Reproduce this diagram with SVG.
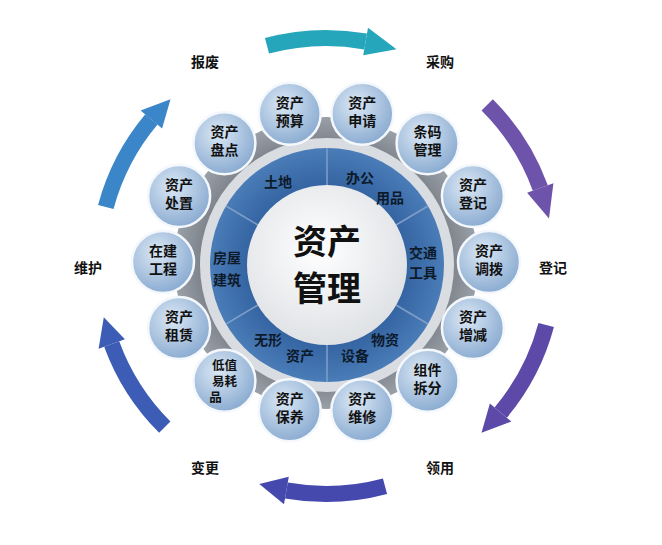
<svg xmlns="http://www.w3.org/2000/svg" width="662" height="545" viewBox="0 0 662 545">
<defs>
<radialGradient id="gc" cx="40%" cy="35%" r="70%"><stop offset="0" stop-color="#dbe8f5"/><stop offset="1" stop-color="#86a8cf"/></radialGradient>
<radialGradient id="gw" cx="45%" cy="40%" r="65%"><stop offset="0" stop-color="#ffffff"/><stop offset="1" stop-color="#dcdfe3"/></radialGradient>
<radialGradient id="gb" cx="50%" cy="50%" r="50%"><stop offset="0.6" stop-color="#2f5f9c"/><stop offset="1" stop-color="#4a7cb8"/></radialGradient>
<radialGradient id="gg" cx="50%" cy="50%" r="50%"><stop offset="0.7" stop-color="#6b7078"/><stop offset="1" stop-color="#9aa0a8"/></radialGradient>
<style>
.c{fill:url(#gc);stroke:#f4f8fc;stroke-width:2.5}
.t{font-family:"Noto Sans CJK SC","Liberation Sans",sans-serif;font-weight:bold;font-size:14px;fill:#111;text-anchor:middle}
.s{font-family:"Noto Sans CJK SC","Liberation Sans",sans-serif;font-weight:bold;font-size:14px;fill:#0d1a2a;text-anchor:middle}
.o{font-family:"Noto Sans CJK SC","Liberation Sans",sans-serif;font-weight:bold;font-size:14px;fill:#111;text-anchor:middle}
.a{fill:none;stroke-width:16}
</style>
</defs>
<rect width="662" height="545" fill="#fff"/>
<g id="connectors">
<path class="a" stroke="#26a6bb" d="M267,45.8 A228,228 0 0 1 365.6,41.5"/><polygon fill="#26a6bb" points="363.2,55.3 368,27.7 396.5,49.2"/>
<path class="a" stroke="#6d53aa" d="M487.2,104.8 A228,228 0 0 1 540.3,188"/><polygon fill="#6d53aa" points="527.1,192.8 553.4,183.2 549,218.6"/>
<path class="a" stroke="#5c49a8" d="M546.2,325 A228,228 0 0 1 500.7,412.6"/><polygon fill="#5c49a8" points="489.9,403.6 511.4,421.6 481.5,432.8"/>
<path class="a" stroke="#4549ae" d="M385,486.2 A228,228 0 0 1 286.4,490.5"/><polygon fill="#4549ae" points="288.8,476.7 284,504.3 259.3,484"/>
<path class="a" stroke="#3d5cb6" d="M164.8,427.2 A228,228 0 0 1 111.7,344"/><polygon fill="#3d5cb6" points="124.9,339.2 98.6,348.8 103.8,317.3"/>
<path class="a" stroke="#3a86c8" d="M105.8,207 A228,228 0 0 1 151.4,119.4"/><polygon fill="#3a86c8" points="162.1,128.4 140.6,110.4 170.5,99.2"/>
</g>
<g id="labels">
<text class="o" x="205" y="67">报废</text><text class="o" x="440" y="67">采购</text>
<text class="o" x="553" y="273">登记</text><text class="o" x="440" y="473">领用</text>
<text class="o" x="205" y="473">变更</text><text class="o" x="88" y="273">维护</text>
</g>
<g id="hub">
<ellipse cx="326" cy="263" rx="152" ry="146" fill="url(#gg)"/>
<circle cx="327" cy="265" r="127" fill="#d9dde2"/>
<circle cx="327" cy="265" r="117" fill="url(#gb)"/>
<g stroke="#7f9fc8" stroke-width="1.5">
<line x1="327" y1="185" x2="327" y2="148"/><line x1="327" y1="345" x2="327" y2="382"/>
<line x1="396" y1="225" x2="428" y2="206"/><line x1="258" y1="225" x2="226" y2="206"/>
<line x1="396" y1="305" x2="428" y2="324"/><line x1="258" y1="305" x2="226" y2="324"/>
</g>
<circle cx="327" cy="265" r="80" fill="url(#gw)"/>
<text class="t" style="font-size:34px" x="327" y="254">资产</text>
<text class="t" style="font-size:34px" x="327" y="301">管理</text>
<text class="s" x="278" y="187">土地</text>
<text class="s" x="360" y="183">办公</text><text class="s" x="390" y="203">用品</text>
<text class="s" x="423" y="258">交通</text><text class="s" x="423" y="278">工具</text>
<text class="s" x="385" y="345">物资</text><text class="s" x="355" y="361">设备</text>
<text class="s" x="268" y="345">无形</text><text class="s" x="300" y="361">资产</text>
<text class="s" x="227" y="263">房屋</text><text class="s" x="227" y="285">建筑</text>
</g>
<g id="n0"><circle class="c" cx="489" cy="262" r="31"/><text class="t" x="489" y="256">资产</text><text class="t" x="489" y="274">调拨</text></g>
<g id="n1"><circle class="c" cx="472.9" cy="196" r="31"/><text class="t" x="472.9" y="190">资产</text><text class="t" x="472.9" y="208">登记</text></g>
<g id="n2"><circle class="c" cx="427.6" cy="143.2" r="31"/><text class="t" x="427.6" y="137">条码</text><text class="t" x="427.6" y="155">管理</text></g>
<g id="n3"><circle class="c" cx="362.3" cy="113.8" r="31"/><text class="t" x="362.3" y="108">资产</text><text class="t" x="362.3" y="126">申请</text></g>
<g id="n4"><circle class="c" cx="289.7" cy="113.8" r="31"/><text class="t" x="289.7" y="108">资产</text><text class="t" x="289.7" y="126">预算</text></g>
<g id="n5"><circle class="c" cx="224.4" cy="143.2" r="31"/><text class="t" x="224.4" y="137">资产</text><text class="t" x="224.4" y="155">盘点</text></g>
<g id="n6"><circle class="c" cx="179.1" cy="196" r="31"/><text class="t" x="179.1" y="190">资产</text><text class="t" x="179.1" y="208">处置</text></g>
<g id="n7"><circle class="c" cx="163" cy="262" r="31"/><text class="t" x="163" y="256">在建</text><text class="t" x="163" y="274">工程</text></g>
<g id="n8"><circle class="c" cx="179.1" cy="328" r="31"/><text class="t" x="179.1" y="322">资产</text><text class="t" x="179.1" y="340">租赁</text></g>
<g id="n9"><circle class="c" cx="224.4" cy="380.8" r="31"/><text class="t" style="font-size:12.5px" x="224.4" y="370">低值</text><text class="t" style="font-size:12.5px" x="224.4" y="386">易耗</text><text class="t" style="font-size:12.5px" x="215.5" y="402">品</text></g>
<g id="n10"><circle class="c" cx="289.7" cy="410.2" r="31"/><text class="t" x="289.7" y="404">资产</text><text class="t" x="289.7" y="422">保养</text></g>
<g id="n11"><circle class="c" cx="362.3" cy="410.2" r="31"/><text class="t" x="362.3" y="404">资产</text><text class="t" x="362.3" y="422">维修</text></g>
<g id="n12"><circle class="c" cx="427.6" cy="380.8" r="31"/><text class="t" x="427.6" y="375">组件</text><text class="t" x="427.6" y="393">拆分</text></g>
<g id="n13"><circle class="c" cx="472.9" cy="328" r="31"/><text class="t" x="472.9" y="322">资产</text><text class="t" x="472.9" y="340">增减</text></g>
</svg>
